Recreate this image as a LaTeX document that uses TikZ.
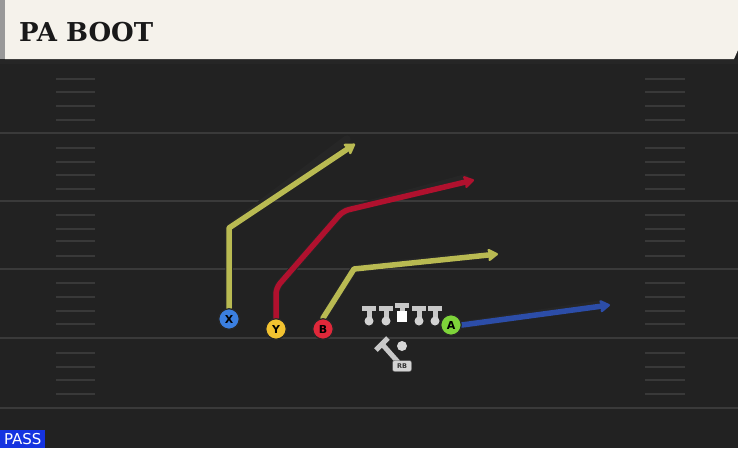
\documentclass[tikz,border=0pt]{standalone}
\usepackage{fontspec}
\setmainfont{DejaVu Sans}
\newfontfamily\slabfont{DejaVu Serif}
\usetikzlibrary{arrows.meta}
\definecolor{field}{HTML}{222222}
\definecolor{yardline}{HTML}{3A3A3A}
\definecolor{hash}{HTML}{393939}
\definecolor{cream}{HTML}{F5F2EB}
\definecolor{olive}{HTML}{B9BA52}
\definecolor{crimson}{HTML}{B0112E}
\definecolor{routeblue}{HTML}{2C4DA8}
\definecolor{xblue}{HTML}{3B7FE0}
\definecolor{yyellow}{HTML}{F2C230}
\definecolor{bred}{HTML}{E0283A}
\definecolor{agreen}{HTML}{7ED43A}
\definecolor{passblue}{HTML}{1533E0}
\definecolor{lineman}{HTML}{C8C8C8}
\tikzset{
  route/.style={line width=5.5pt, line join=round, line cap=round, -{Stealth[length=12pt,width=15pt,inset=2.5pt,round]}},
  routeedge/.style={line width=7.5pt, line join=round, line cap=round, draw=black!85},
  player/.style={circle, draw=black!85, line width=1.2pt, minimum size=20.5pt, inner sep=0pt, font=\bfseries\fontsize{11}{11}\selectfont},
  hashmark/.style={draw=hash, line width=2.5pt},
  yard/.style={draw=yardline, line width=2.5pt},
  ol/.style={draw=lineman, line width=5pt},
}
\begin{document}
\begin{tikzpicture}[x=1pt,y=-1pt]
\useasboundingbox (0,0) rectangle (738,448);
\fill[field] (0,0) rectangle (738,448);
% header
\fill[black!85] (0,59) rectangle (738,64);
\fill[black!40] (0,0) rectangle (5,59);
\fill[cream] (5,0) -- (738,0) -- (738,50) -- (734,59) -- (5,59) -- cycle;
\node[anchor=west, font=\slabfont\bfseries\fontsize{26}{26}\selectfont, text=black!90, inner sep=0pt] (title) at (19,32) {PA BOOT};
% yard lines
\foreach \y in {133,201,269,338,408} {\draw[yard] (0,\y) -- (738,\y);}
% hash marks
\foreach \y in {79,92,106,120,148,162,175,189,215,229,241,256,283,297,311,324,353,367,380,394} {
  \draw[hashmark] (56,\y) -- (95,\y);
  \draw[hashmark] (645,\y) -- (685,\y);
}
% players
\node[player, fill=xblue] (X) at (229,319) {X};
\node[player, fill=yyellow] (Y) at (276,329) {Y};
\node[player, fill=bred] (B) at (323,329) {B};
\node[player, fill=agreen] (A) at (451,325) {A};
% route bend points
\coordinate (xc) at (229,228);
\coordinate (xe) at (355,144);
\coordinate (yc1) at (276,288);
\coordinate (yc2) at (343,211);
\coordinate (ye) at (474,180);
\coordinate (bc) at (354,269);
\coordinate (be) at (498,254);
\coordinate (ae) at (610,305);
% route outlines
\draw[routeedge] (X.north) -- (xc) -- ([xshift=-8,yshift=5]xe);
\draw[routeedge, rounded corners=6pt] (Y.north) -- (yc1) -- (yc2) -- ([xshift=-9,yshift=2]ye);
\draw[routeedge] (B.north) -- (bc) -- ([xshift=-9,yshift=1]be);
\draw[routeedge] (A.east) -- ([xshift=-9,yshift=1]ae);
% routes
\draw[route, draw=olive] (X.north) -- (xc) -- (xe);
\draw[route, draw=crimson, rounded corners=6pt] (Y.north) -- (yc1) -- (yc2) -- (ye);
\draw[route, draw=olive] (B.north) -- (bc) -- (be);
\draw[route, draw=routeblue] (A.east) -- (ae);
% redraw players on top
\node[player, fill=xblue] at (X) {X};
\node[player, fill=yyellow] at (Y) {Y};
\node[player, fill=bred] at (B) {B};
\node[player, fill=agreen] at (A) {A};
% offensive line
\foreach \x in {369,386,419,435} {
  \draw[ol] (\x-7,308) -- (\x+7,308);
  \draw[ol] (\x,308) -- (\x,319);
  \fill[lineman!80] (\x,321) circle (4.5pt);
}
\draw[ol] (395,305) -- (409,305);
\draw[ol] (402,305) -- (402,312);
\fill[white] (397,311) rectangle (407,322);
% running back
\node[circle, fill=lineman!75, inner sep=0pt, minimum size=10pt] (rbdot) at (402,346) {};
\draw[ol] (376,350) -- (388,338);
\draw[ol] (382,344) -- (398,362);
\node[fill=lineman!80, draw=black!70, rounded corners=2pt, inner sep=1pt, minimum width=19pt, minimum height=11pt, font=\bfseries\fontsize{6.5}{6.5}\selectfont, text=black!80] (rb) at (402,366) {RB};
% pass tag
\node[fill=passblue, text=white, anchor=south west, inner xsep=2pt, inner ysep=2pt, minimum width=45pt, minimum height=18pt, font=\fontsize{15}{15}\selectfont] (pass) at (0,448) {PASS};
\end{tikzpicture}
\end{document}
